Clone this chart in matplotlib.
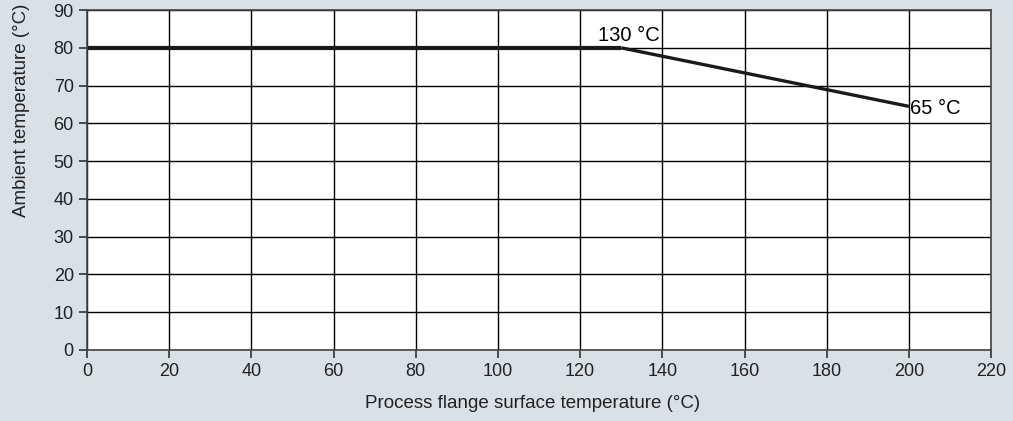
import matplotlib.pyplot as plt

plt.rcParams['font.family'] = ['Liberation Sans', 'DejaVu Sans']

# derating curve
flange_temp = [0, 130, 200]
ambient_temp = [80, 80, 64.5]

x_ticks = list(range(0, 221, 20))
y_ticks = list(range(0, 91, 10))

bg = '#d9e0e6'
fig = plt.figure(figsize=(10.13, 4.21), dpi=100, facecolor=bg)
ax = fig.add_axes([0.0859, 0.169, 0.8925, 0.807])
ax.set_facecolor('white')

ax.set_xlim(0, 220)
ax.set_ylim(0, 90)
ax.set_xticks(x_ticks)
ax.set_yticks(y_ticks)
ax.grid(True, color='black', linewidth=1.0)
ax.set_axisbelow(True)

ax.plot(flange_temp[:2], ambient_temp[:2], color='#1a1a1a', linewidth=3.0,
        solid_capstyle='butt')
ax.plot(flange_temp[1:], ambient_temp[1:], color='#1a1a1a', linewidth=2.4,
        solid_capstyle='butt')

ax.text(124.4, 81.9, '130 °C', fontsize=14.5, ha='left', va='baseline')
ax.text(200.2, 64.0, '65 °C', fontsize=14.5, ha='left', va='center')

for s in ax.spines.values():
    s.set_color('#444444')
    s.set_linewidth(1.2)
ax.tick_params(direction='out', length=5.5, width=1.2, color='#333333',
               pad=4, labelsize=13, labelcolor='#222222')

ax.set_xlabel('Process flange surface temperature (°C)', fontsize=13.5,
              color='#222222', va='center')
ax.set_ylabel('Ambient temperature (°C)', fontsize=13.5, color='#222222',
              va='center')
ax.xaxis.set_label_coords(0.493, -0.159)
ax.yaxis.set_label_coords(-0.072, 0.706)

fig.savefig('out.png', dpi=100, facecolor=bg)
